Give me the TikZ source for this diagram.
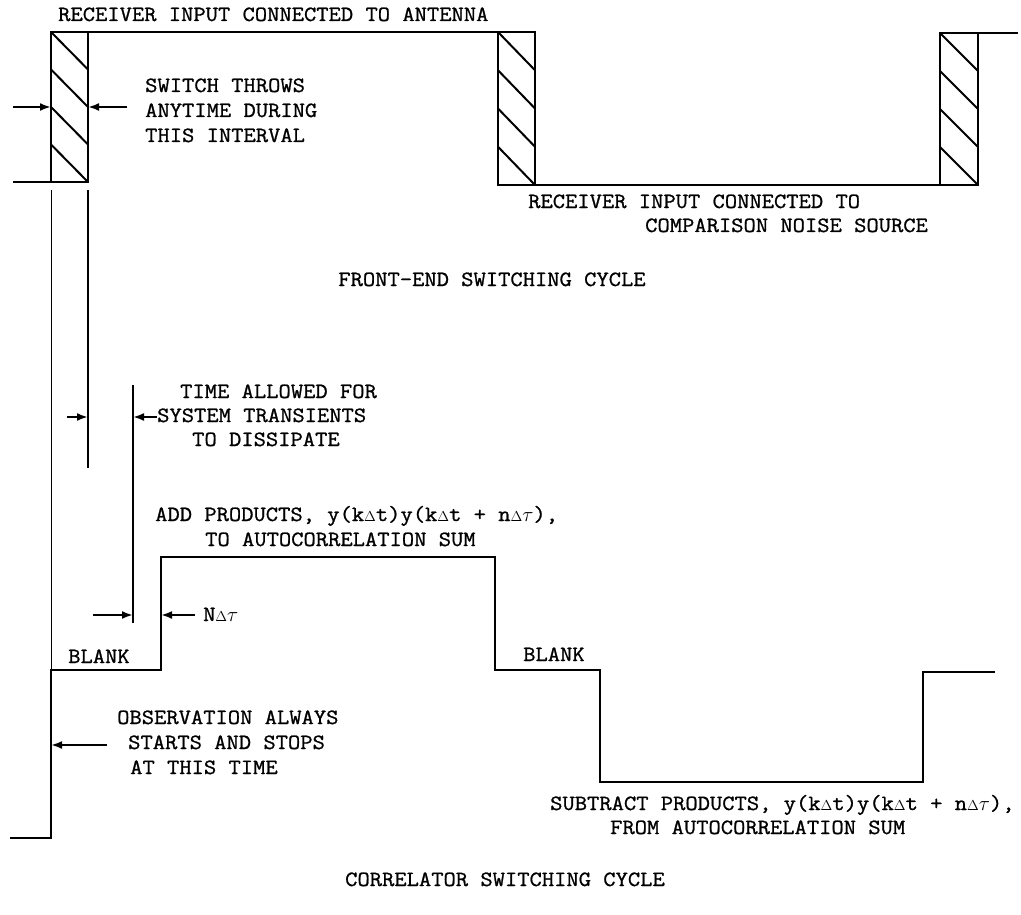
\documentclass[tikz,border=0pt]{standalone}
\usepackage{fontspec}
\setmainfont{Latin Modern Mono}[FakeStretch=1.1,FakeBold=1]
\usetikzlibrary{arrows.meta}
\newcommand\lblfont{\fontsize{21.7}{25}\selectfont}
\newcommand\dlt{{\fontsize{15}{15}\selectfont$\Delta$}}
\newcommand\hatchbox[4]{%
  \draw[wave] (#1,#2) rectangle (#3,#4);
  \foreach \i in {0,1,2,3}{%
    \draw[hatch] (#1,{#2+\i*(#4-#2)/4}) -- (#3,{#2+(\i+1)*(#4-#2)/4});
  }%
}
\begin{document}
\begin{tikzpicture}[x=1pt,y=-1pt,
  wave/.style={line width=2.4pt, line join=miter},
  hatch/.style={line width=2pt},
  guide/.style={line width=1pt},
  dimarrow/.style={line width=2.2pt, -{Latex[length=11pt,width=8pt]}},
  lbl/.style={anchor=base west, inner sep=0pt, font=\lblfont},
  ctr/.style={anchor=base, inner sep=0pt, font=\lblfont}]
\useasboundingbox[fill=white] (0,0) rectangle (1021,915);

% front-end switching waveform
\coordinate (t0) at (13,182);
\coordinate (t1) at (51,182);
\coordinate (t2) at (51,32);
\coordinate (t3) at (498,32);
\coordinate (t4) at (498,185);
\coordinate (t5) at (940,185);
\coordinate (t6) at (940,33);
\coordinate (t7) at (1018,33);
\draw[wave] (t0) -- (t1) -- (t2) -- (t3) -- (t4) -- (t5) -- (t6) -- (t7);
\hatchbox{51}{32}{88}{182}
\hatchbox{498}{32}{535}{185}
\hatchbox{940}{33}{978}{185}

% correlator switching waveform
\coordinate (b0) at (10,838);
\coordinate (b1) at (51,838);
\coordinate (b2) at (51,670);
\coordinate (b3) at (161,670);
\coordinate (b4) at (161,557);
\coordinate (b5) at (495,557);
\coordinate (b6) at (495,670);
\coordinate (b7) at (600,670);
\coordinate (b8) at (600,782);
\coordinate (b9) at (923,782);
\coordinate (b10) at (923,672);
\coordinate (b11) at (995,672);
\draw[wave] (b0) -- (b1) -- (b2) -- (b3) -- (b4) -- (b5) -- (b6) -- (b7) -- (b8) -- (b9) -- (b10) -- (b11);

% guide lines
\coordinate (g1a) at (51,190);
\coordinate (g2a) at (88,190);
\coordinate (g2b) at (88,468);
\coordinate (g3a) at (133,385);
\coordinate (g3b) at (133,623);
\draw[guide, line width=0.8pt] (g1a) -- (b2);
\draw[guide, line width=1.2pt] (g2a) -- (g2b);
\draw[guide, line width=1.6pt] (g3a) -- (g3b);

% dimension arrows
\coordinate (a1s) at (13,107);  \coordinate (a1e) at (51,107);
\coordinate (a2s) at (127,107); \coordinate (a2e) at (88,107);
\coordinate (a3s) at (67,417);  \coordinate (a3e) at (88,417);
\coordinate (a4s) at (157,417); \coordinate (a4e) at (133,417);
\coordinate (a5s) at (93,615);  \coordinate (a5e) at (133,615);
\coordinate (a6s) at (195,615); \coordinate (a6e) at (161,615);
\coordinate (a7s) at (107,745); \coordinate (a7e) at (51,745);
\draw[dimarrow] (a1s) -- (a1e);
\draw[dimarrow] (a2s) -- (a2e);
\draw[dimarrow] (a3s) -- (a3e);
\draw[dimarrow] (a4s) -- (a4e);
\draw[dimarrow] (a5s) -- (a5e);
\draw[dimarrow] (a6s) -- (a6e);
\draw[dimarrow] (a7s) -- (a7e);

% labels
\node[lbl] (l1) at (58,21) {RECEIVER INPUT CONNECTED TO ANTENNA};
\node[lbl] (l2a) at (145,92) {SWITCH THROWS};
\node[lbl] (l2b) at (145,117) {ANYTIME DURING};
\node[lbl] (l2c) at (145,142) {THIS INTERVAL};
\node[lbl] (l3a) at (528,208) {RECEIVER INPUT CONNECTED TO};
\node[lbl] (l3b) at (645,232) {COMPARISON NOISE SOURCE};
\node[ctr] (l4) at (492,286) {FRONT-END SWITCHING CYCLE};
\node[lbl] (l5a) at (180,398) {TIME ALLOWED FOR};
\node[lbl] (l5b) at (157,422) {SYSTEM TRANSIENTS};
\node[lbl] (l5c) at (192,446) {TO DISSIPATE};
\node[lbl] (l6a) at (155,521) {ADD PRODUCTS, y(k\dlt t)y(k\dlt t + n\dlt$\tau$),};
\node[lbl] (l6b) at (205,546) {TO AUTOCORRELATION SUM};
\node[lbl] (l7) at (203,621) {N\dlt$\tau$};
\node[lbl] (l8) at (68,663) {BLANK};
\node[lbl] (l9) at (523,661) {BLANK};
\node[lbl] (l10a) at (117,724) {OBSERVATION ALWAYS};
\node[lbl] (l10b) at (128,749) {STARTS AND STOPS};
\node[lbl] (l10c) at (130,774) {AT THIS TIME};
\node[lbl] (l11a) at (550,810) {SUBTRACT PRODUCTS, y(k\dlt t)y(k\dlt t + n\dlt$\tau$),};
\node[lbl] (l11b) at (610,834) {FROM AUTOCORRELATION SUM};
\node[ctr] (l12) at (505,886) {CORRELATOR SWITCHING CYCLE};
\end{tikzpicture}
\end{document}
